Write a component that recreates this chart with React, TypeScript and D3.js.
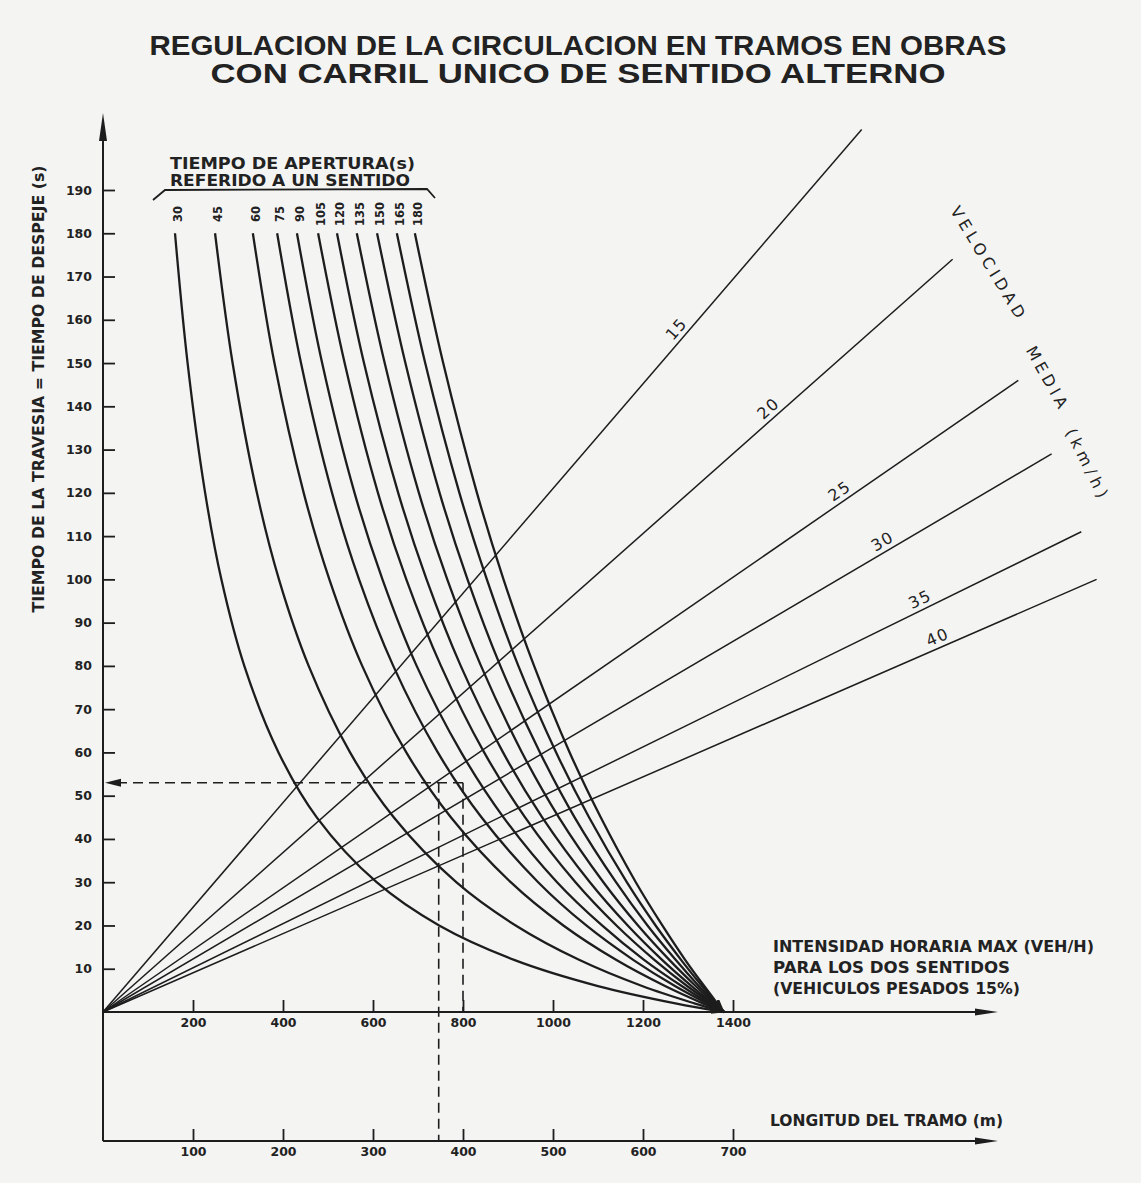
import React, { useEffect, useRef } from 'react'
import * as d3 from 'd3'

const W = 1141
const H = 1183
const FONT = "'DejaVu Sans', 'Liberation Sans', sans-serif"
const INK = '#1d1d1d'

const titleLines = [
  'REGULACION DE LA CIRCULACION EN TRAMOS EN OBRAS',
  'CON CARRIL UNICO DE SENTIDO ALTERNO',
]

// Tiempo de apertura (s), one curve each
const aperturas = [30, 45, 60, 75, 90, 105, 120, 135, 150, 165, 180]
// time levels (s) at which the curves were read
const curveTimes = [180, 150, 120, 100, 80, 60, 45, 30, 20, 12, 6, 2, 0]
// intensity (veh/h) read for each curve at those time levels
const int30 = [160, 188, 227, 263, 314, 390, 475, 608, 747, 915, 1100, 1272, 1380]
const int45 = [249, 288, 342, 391, 457, 549, 646, 785, 917, 1059, 1198, 1314, 1380]
const int60 = [333, 381, 446, 503, 576, 674, 773, 906, 1023, 1141, 1249, 1333, 1380]
const int75 = [387, 440, 509, 569, 645, 744, 841, 967, 1074, 1179, 1271, 1342, 1380]
const int90 = [431, 487, 559, 621, 697, 796, 890, 1009, 1109, 1203, 1286, 1347, 1380]
const int105 = [478, 537, 611, 674, 751, 847, 938, 1050, 1141, 1226, 1298, 1352, 1380]
const int120 = [520, 580, 656, 719, 795, 889, 976, 1082, 1166, 1243, 1308, 1355, 1380]
const int135 = [564, 626, 702, 765, 840, 931, 1013, 1112, 1189, 1259, 1317, 1358, 1380]
const int150 = [609, 672, 748, 810, 883, 971, 1048, 1140, 1210, 1273, 1324, 1361, 1380]
const int165 = [653, 716, 792, 853, 923, 1007, 1080, 1164, 1228, 1285, 1331, 1363, 1380]
const int180 = [693, 756, 831, 890, 958, 1037, 1106, 1184, 1243, 1294, 1336, 1365, 1380]
const curveIntensities = [int30, int45, int60, int75, int90, int105, int120, int135, int150, int165, int180]

// Velocidad media (km/h): straight lines from the origin
const speeds = [15, 20, 25, 30, 35, 40]
const speedEndLength = [843, 944, 1017, 1054, 1087, 1104] // m
const speedEndTime = [204, 174, 146, 129, 111, 100] // s
const speedLabelLength = [646, 747, 825, 872, 913, 932] // m, where the label sits

const yTickValues = [10, 20, 30, 40, 50, 60, 70, 80, 90, 100, 110, 120, 130, 140, 150, 160, 170, 180, 190]
const xTickValues = [200, 400, 600, 800, 1000, 1200, 1400]
const lTickValues = [100, 200, 300, 400, 500, 600, 700]

// worked example (dashed)
const ejemploTiempo = 53
const ejemploLongitud = 373
const ejemploIntensidad = 800

export default function App() {
  const ref = useRef<SVGSVGElement>(null)

  useEffect(() => {
    if (!ref.current) return
    const svg = d3.select(ref.current)
    svg.selectAll('*').remove()

    const x0 = 103
    const yTop = 1012
    const yBottom = 1141

    const xQ = d3.scaleLinear().domain([0, 1400]).range([x0, 733])
    const xL = d3.scaleLinear().domain([0, 700]).range([x0, 733])
    const yT = d3.scaleLinear().domain([0, 190]).range([yTop, 190])

    svg.append('rect').attr('width', W).attr('height', H).attr('fill', '#f4f4f3')

    const defs = svg.append('defs')
    defs.append('marker')
      .attr('id', 'head')
      .attr('markerUnits', 'userSpaceOnUse')
      .attr('markerWidth', 14)
      .attr('markerHeight', 8)
      .attr('refX', 13)
      .attr('refY', 4)
      .attr('orient', 'auto')
      .append('path')
      .attr('d', 'M0,0 L14,4 L0,8 Z')
      .attr('fill', INK)

    // title (one text element, two lines)
    const title = svg.append('text')
      .attr('text-anchor', 'middle')
      .attr('font-family', "'Liberation Sans Narrow', 'Liberation Sans', sans-serif")
      .attr('font-weight', 'bold')
      .attr('font-size', 28)
      .attr('fill', '#222')
    titleLines.forEach((t, i) => {
      title.append('tspan')
        .attr('x', 578)
        .attr('y', 55 + i * 28)
        .attr('textLength', i === 0 ? 857 : 735)
        .attr('lengthAdjust', 'spacingAndGlyphs')
        .text(t)
    })

    // axes lines
    svg.append('line')
      .attr('x1', x0).attr('x2', x0).attr('y1', yBottom).attr('y2', 125)
      .attr('stroke', INK).attr('stroke-width', 2)
    svg.append('path')
      .attr('d', `M${x0},113 L${x0 - 4},141 L${x0 + 4},141 Z`)
      .attr('fill', INK)

    svg.append('line')
      .attr('x1', x0).attr('x2', 985).attr('y1', yTop).attr('y2', yTop)
      .attr('stroke', INK).attr('stroke-width', 2)
    svg.append('path')
      .attr('d', `M998,${yTop} L975,${yTop - 3.5} L975,${yTop + 3.5} Z`)
      .attr('fill', INK)

    svg.append('line')
      .attr('x1', x0).attr('x2', 985).attr('y1', yBottom).attr('y2', yBottom)
      .attr('stroke', INK).attr('stroke-width', 2)
    svg.append('path')
      .attr('d', `M998,${yBottom} L975,${yBottom - 3.5} L975,${yBottom + 3.5} Z`)
      .attr('fill', INK)

    const styleAxis = (g: any) => {
      g.select('.domain').remove()
      g.selectAll('.tick line').attr('stroke', INK).attr('stroke-width', 1.8)
      g.selectAll('.tick text')
        .attr('fill', '#222')
        .attr('font-family', FONT)
        .attr('font-weight', 'bold')
        .attr('font-size', 12.5)
    }

    svg.append('g')
      .attr('transform', `translate(${x0},0)`)
      .call(d3.axisLeft(yT).tickValues(yTickValues).tickSize(-12).tickPadding(11).tickSizeOuter(0).tickFormat(d3.format('d')))
      .call(styleAxis)

    svg.append('g')
      .attr('transform', `translate(0,${yTop})`)
      .call(d3.axisBottom(xQ).tickValues(xTickValues).tickSize(-12).tickPadding(6).tickSizeOuter(0).tickFormat(d3.format('d')))
      .call(styleAxis)

    svg.append('g')
      .attr('transform', `translate(0,${yBottom})`)
      .call(d3.axisBottom(xL).tickValues(lTickValues).tickSize(-12).tickPadding(6).tickSizeOuter(0).tickFormat(d3.format('d')))
      .call(styleAxis)

    // y axis title
    svg.append('text')
      .attr('transform', 'translate(44,389) rotate(-90)')
      .attr('text-anchor', 'middle')
      .attr('font-family', FONT)
      .attr('font-weight', 'bold')
      .attr('font-size', 15)
      .attr('textLength', 447)
      .attr('lengthAdjust', 'spacingAndGlyphs')
      .attr('fill', '#222')
      .text('TIEMPO DE LA TRAVESIA = TIEMPO DE DESPEJE (s)')

    // x axis titles
    const intensLines = ['INTENSIDAD HORARIA MAX (VEH/H)', 'PARA LOS DOS SENTIDOS', '(VEHICULOS PESADOS 15%)']
    const intensLen = [321, 237, 247]
    intensLines.forEach((t, i) => {
      svg.append('text')
        .attr('x', 773)
        .attr('y', 952 + i * 21)
        .attr('font-family', FONT)
        .attr('font-weight', 'bold')
        .attr('font-size', 15)
        .attr('textLength', intensLen[i])
        .attr('lengthAdjust', 'spacingAndGlyphs')
        .attr('fill', '#222')
        .text(t)
    })
    svg.append('text')
      .attr('x', 770)
      .attr('y', 1126)
      .attr('font-family', FONT)
      .attr('font-weight', 'bold')
      .attr('font-size', 15)
      .attr('textLength', 233)
      .attr('lengthAdjust', 'spacingAndGlyphs')
      .attr('fill', '#222')
      .text('LONGITUD DEL TRAMO (m)')

    // speed lines
    const speedG = svg.append('g')
    speeds.forEach((v, i) => {
      const ex = xL(speedEndLength[i])
      const ey = yT(speedEndTime[i])
      speedG.append('line')
        .attr('x1', xL(0)).attr('y1', yT(0))
        .attr('x2', ex).attr('y2', ey)
        .attr('stroke', INK).attr('stroke-width', 1.5)
      const ang = Math.atan2(ey - yT(0), ex - xL(0)) * 180 / Math.PI
      const lt = speedEndTime[i] * speedLabelLength[i] / speedEndLength[i]
      speedG.append('text')
        .attr('transform', `translate(${xL(speedLabelLength[i])},${yT(lt)}) rotate(${ang})`)
        .attr('y', -5)
        .attr('text-anchor', 'middle')
        .attr('font-family', FONT)
        .attr('font-size', 16)
        .attr('letter-spacing', 1.5)
        .attr('fill', '#222')
        .text(v)
    })

    // VELOCIDAD MEDIA (km/h)
    const velParts = [
      { t: 'VELOCIDAD', x: 988, y: 262, a: 58.5, len: 128 },
      { t: 'MEDIA', x: 1047, y: 377, a: 61, len: 68 },
      { t: '(km/h)', x: 1087, y: 463, a: 63.5, len: 75 },
    ]
    velParts.forEach(p => {
      svg.append('text')
        .attr('transform', `translate(${p.x},${p.y}) rotate(${p.a})`)
        .attr('text-anchor', 'middle')
        .attr('dy', '0.36em')
        .attr('font-family', FONT)
        .attr('font-size', 16)
        .attr('textLength', p.len)
        .attr('lengthAdjust', 'spacing')
        .attr('fill', '#222')
        .text(p.t)
    })

    // aperture curves
    const line = d3.line<[number, number]>()
      .x(d => xQ(d[0]))
      .y(d => yT(d[1]))
      .curve(d3.curveCatmullRom.alpha(0.5))

    const curveG = svg.append('g')
    aperturas.forEach((a, i) => {
      const pts: [number, number][] = curveTimes.map((t, j) => [curveIntensities[i][j], t])
      curveG.append('path')
        .attr('d', line(pts))
        .attr('fill', 'none')
        .attr('stroke', INK)
        .attr('stroke-width', 2.3)
        .attr('marker-end', 'url(#head)')

      curveG.append('text')
        .attr('transform', `translate(${xQ(curveIntensities[i][0]) + 3},214) rotate(-90)`)
        .attr('text-anchor', 'middle')
        .attr('dy', '0.35em')
        .attr('font-family', FONT)
        .attr('font-weight', 'bold')
        .attr('font-size', 11.5)
        .attr('fill', '#222')
        .text(a)
    })

    // bracket + heading of the curves
    svg.append('path')
      .attr('d', 'M153,200 L165,190 L427,189 L435,198')
      .attr('fill', 'none')
      .attr('stroke', INK)
      .attr('stroke-width', 1.8)
    ;['TIEMPO DE APERTURA(s)', 'REFERIDO A UN SENTIDO'].forEach((t, i) => {
      svg.append('text')
        .attr('x', 170)
        .attr('y', 169 + i * 17)
        .attr('font-family', FONT)
        .attr('font-weight', 'bold')
        .attr('font-size', 15)
        .attr('textLength', i === 0 ? 245 : 240)
        .attr('lengthAdjust', 'spacingAndGlyphs')
        .attr('fill', '#222')
        .text(t)
    })

    // dashed example
    const dash = '10,6'
    const ey = yT(ejemploTiempo)
    svg.append('line')
      .attr('x1', x0 + 14).attr('x2', xQ(ejemploIntensidad)).attr('y1', ey).attr('y2', ey)
      .attr('stroke', INK).attr('stroke-width', 1.6).attr('stroke-dasharray', dash)
    svg.append('path')
      .attr('d', `M${x0 + 2},${ey} L${x0 + 18},${ey - 4} L${x0 + 18},${ey + 4} Z`)
      .attr('fill', INK)
    svg.append('line')
      .attr('x1', xL(ejemploLongitud)).attr('x2', xL(ejemploLongitud)).attr('y1', ey).attr('y2', yBottom)
      .attr('stroke', INK).attr('stroke-width', 1.6).attr('stroke-dasharray', dash)
    svg.append('line')
      .attr('x1', xQ(ejemploIntensidad)).attr('x2', xQ(ejemploIntensidad)).attr('y1', ey).attr('y2', yTop)
      .attr('stroke', INK).attr('stroke-width', 1.6).attr('stroke-dasharray', dash)
  }, [])

  return (
    <svg
      ref={ref}
      width={W}
      height={H}
      style={{ position: 'absolute', left: 0, top: 0, display: 'block' }}
    />
  )
}
